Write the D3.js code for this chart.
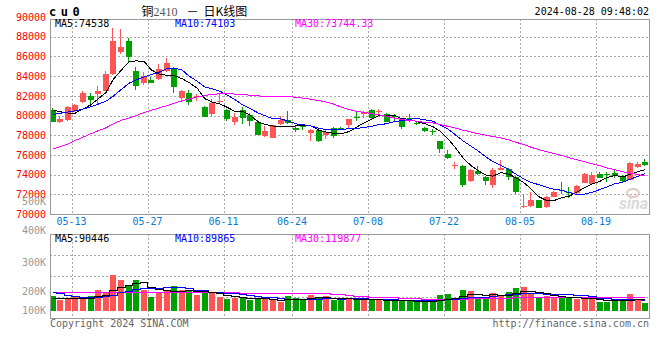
<!DOCTYPE html>
<html>
<head>
<meta charset="utf-8">
<script src="https://cdn.jsdelivr.net/npm/d3@7"></script>
<style>
  body { margin: 0; background: #fff; }
  text { font-family: "DejaVu Sans Mono", monospace; font-size: 10px; }
</style>
</head>
<body>
<div id="chart"></div>
<script>
var width = 660,
    height = 360;

// trading days shown (2024-05-09 .. 2024-08-28)
var dates = ["05-09","05-10","05-13","05-14","05-15","05-16","05-17","05-20","05-21","05-22",
  "05-23","05-24","05-27","05-28","05-29","05-30","05-31","06-03","06-04","06-05",
  "06-06","06-07","06-11","06-12","06-13","06-14","06-17","06-18","06-19","06-20",
  "06-21","06-24","06-25","06-26","06-27","06-28","07-01","07-02","07-03","07-04",
  "07-05","07-08","07-09","07-10","07-11","07-12","07-15","07-16","07-17","07-18",
  "07-19","07-22","07-23","07-24","07-25","07-26","07-29","07-30","07-31","08-01",
  "08-02","08-05","08-06","08-07","08-08","08-09","08-12","08-13","08-14","08-15",
  "08-16","08-19","08-20","08-21","08-22","08-23","08-26","08-27","08-28"];

var opens = [80575,79320,79560,80500,81340,81990,82190,82520,84270,86490,
  87570,84470,83360,83640,83710,84540,84720,81790,82250,81880,
  80910,80170,81380,80600,79320,80600,80070,79390,77880,77710,
  79160,79570,78720,79060,78210,78480,77980,78720,78700,78990,
  79870,80170,80600,80400,80170,79990,79600,79700,79230,78720,
  78420,77370,76130,74900,74850,73360,74370,73770,72930,74550,
  74520,73710,70750,70810,71410,70640,71750,72400,72200,72150,
  73160,73030,74110,74080,74170,73770,73500,74780,75280];
var highs = [80780,79900,81010,81180,82450,82250,83030,84470,88860,88760,
  87880,84880,84370,83870,85220,85790,84880,82590,82590,82200,
  81010,81690,82190,80710,80230,80840,80230,79500,78920,79000,
  79900,80500,78990,79160,78660,78560,78480,78820,78800,79650,
  80500,80500,80710,80700,80270,80170,79670,80170,79330,78800,
  78650,77400,76540,75280,74950,74520,74850,73840,74620,75450,
  74620,73840,72020,72250,71450,71820,72350,73260,72760,72930,
  74170,74270,74270,74270,74440,73940,75280,75280,75560];
var lows = [79320,79250,79490,80320,81240,81010,81180,82450,84140,86230,
  85280,82580,83130,83260,83600,84370,82250,81510,81080,81500,
  79830,79830,81180,79490,79060,79160,78920,77980,77810,77680,
  78990,79160,78310,78480,77400,77300,77600,77710,78500,78580,
  79490,79730,79670,80030,79330,79490,78660,79390,79060,78300,
  77980,76230,75560,74520,72760,73260,73940,72930,72660,74440,
  73430,72080,70570,70710,70570,70570,71690,72020,71590,72020,
  73100,72930,73640,73260,73640,73260,73430,74620,74880];
var closes = [79390,79620,80910,81110,82250,81590,82520,84210,87570,86970,
  85990,82960,84040,83300,84720,85380,82860,82450,81340,81950,
  79900,81240,81440,79670,79830,79830,79420,78050,78380,78990,
  79570,79220,78560,78820,78560,77370,78310,77910,78620,79600,
  79800,80330,79830,80460,79390,79880,78760,79640,79160,78380,
  78350,76540,75690,74950,72930,74440,74040,73360,74440,74720,
  73670,72150,70850,71410,70640,71690,72250,72300,72100,72830,
  74040,73940,73710,74000,73840,73360,75180,75120,74950];

// volume, thousands of lots
var volumes = [116,85,98,111,105,116,163,150,282,242,
  203,242,169,111,150,163,195,163,163,124,
  150,150,111,92,105,105,89,105,98,85,
  71,116,105,85,124,105,116,87,87,100,
  95,87,87,87,87,79,87,87,74,79,
  79,124,132,98,163,156,105,111,142,124,
  150,179,187,137,105,116,105,116,105,98,
  98,105,71,71,89,89,132,89,64];

// moving averages before a full window exists
var ma5Head = [80550,80400,80250,80230];
var ma10Head = [80100,80230,80350,80480,80650,80900,81150,81450,81950];
var ma30Head = [76600,76850,77100,77450,77800,78150,78450,78750,79150,79500,
  79750,79980,80300,80520,80760,81000,81250,81480,81680,81870,
  82020,82150,82200,82200,82180,82120,82060,82000,81930];
var volMa5Head = [105,104,103,104];
var volMa10Head = [152,140,128,118,112,110,110,115,125];
var volMa30Head = [150,150,151,151,151,152,152,152,152,152,
  152,152,152,151,151,151,151,150,150,150,
  149,149,148,148,147,146,145,144,143];

var priceTicks = [70000,72000,74000,76000,78000,80000,82000,84000,86000,88000,90000];
var volTicks = [100,200,300,400,500];
var dateTicks = ["05-13","05-27","06-11","06-24","07-08","07-22","08-05","08-19"];

var upColor = "#ff5555",
    downColor = "#00a000",
    gridColor = "#aaa";

var mainBox = {left: 50, right: 649.3, top: 19, bottom: 214},
    volBox = {left: 50, right: 649.3, top: 234.3, bottom: 318.3};

function movingAvg(values, n, head) {
  return values.map(function(v, i) {
    if (i < n - 1) return head[i];
    return d3.mean(values.slice(i - n + 1, i + 1));
  });
}

var candles = dates.map(function(d, i) {
  return {date: d, open: opens[i], high: highs[i], low: lows[i], close: closes[i], volume: volumes[i]};
});

var svg = d3.select("#chart").append("svg")
  .attr("width", width)
  .attr("height", height)
  .style("background", "#fff");

// scales
var xScale = d3.scaleBand()
  .domain(dates)
  .range([48.7, 649.3]);
var step = xScale.step();
function cx(d) { return Math.round(xScale(d) + step / 2); }

var yScale = d3.scaleLinear()
  .domain([70000, 90000])
  .range([mainBox.bottom, 17]);

var volScale = d3.scaleLinear()
  .domain([0, 600])
  .range([311, 311 - 600 / 7.9]);

// the volume labels sit at uneven heights in the source picture
var volLabelScale = d3.scaleLinear()
  .domain([100, 200, 300, 400, 500])
  .range([310, 291, 262, 230, 201.5]);

var defs = svg.append("defs");
defs.append("clipPath").attr("id", "clipMain").append("rect")
  .attr("x", mainBox.left).attr("y", mainBox.top)
  .attr("width", mainBox.right - mainBox.left).attr("height", mainBox.bottom - mainBox.top);
defs.append("clipPath").attr("id", "clipVol").append("rect")
  .attr("x", volBox.left).attr("y", volBox.top)
  .attr("width", volBox.right - volBox.left).attr("height", volBox.bottom - volBox.top);

//grid lines
var grid = svg.append("g")
  .attr("stroke", gridColor)
  .attr("stroke-dasharray", "2,2")
  .attr("shape-rendering", "crispEdges");

grid.selectAll(".hgrid")
  .data(priceTicks.filter(function(p) { return yScale(p) > mainBox.top + 2 && yScale(p) < mainBox.bottom - 2; }))
  .enter().append("line")
    .attr("x1", mainBox.left).attr("x2", mainBox.right)
    .attr("y1", function(d) { return Math.round(yScale(d)) + 0.5; })
    .attr("y2", function(d) { return Math.round(yScale(d)) + 0.5; });

grid.selectAll(".vhgrid")
  .data(d3.range(1, 4))
  .enter().append("line")
    .attr("x1", volBox.left).attr("x2", volBox.right)
    .attr("y1", function(k) { return Math.round(volBox.top + k * (volBox.bottom - volBox.top) / 4) + 0.5; })
    .attr("y2", function(k) { return Math.round(volBox.top + k * (volBox.bottom - volBox.top) / 4) + 0.5; });

[mainBox, volBox].forEach(function(box) {
  grid.append("g").selectAll("line")
    .data(dateTicks)
    .enter().append("line")
      .attr("x1", function(d) { return Math.round(xScale(d) + step) + 0.5; })
      .attr("x2", function(d) { return Math.round(xScale(d) + step) + 0.5; })
      .attr("y1", box.top).attr("y2", box.bottom);
});

// watermark
var mark = svg.append("g").attr("opacity", 0.9);
mark.append("text")
  .attr("x", 648).attr("y", 209)
  .attr("text-anchor", "end")
  .style("font-family", "Roboto, sans-serif")
  .style("font-size", "16px")
  .style("font-weight", "bold")
  .style("font-style", "italic")
  .attr("fill", "#d6d6d6")
  .text("sina");
mark.append("ellipse")
  .attr("cx", 633).attr("cy", 193).attr("rx", 6).attr("ry", 4)
  .attr("fill", "none").attr("stroke", "#e3c4c4").attr("stroke-width", 2);

//candles
var candleG = svg.append("g")
  .attr("clip-path", "url(#clipMain)")
  .attr("shape-rendering", "crispEdges");

var candle = candleG.selectAll(".candle")
  .data(candles)
  .enter().append("g")
    .attr("class", "candle")
    .attr("fill", function(d) { return d.close >= d.open ? upColor : downColor; })
    .attr("stroke", function(d) { return d.close >= d.open ? upColor : downColor; });

candle.append("line")
  .attr("x1", function(d) { return cx(d.date) - 0.5; })
  .attr("x2", function(d) { return cx(d.date) - 0.5; })
  .attr("y1", function(d) { return Math.round(yScale(d.high)); })
  .attr("y2", function(d) { return Math.round(yScale(d.low)); });

candle.append("rect")
  .attr("stroke", "none")
  .attr("x", function(d) { return cx(d.date) - 3; })
  .attr("width", 6)
  .attr("y", function(d) { return Math.round(yScale(Math.max(d.open, d.close))); })
  .attr("height", function(d) {
    return Math.max(1, Math.round(yScale(Math.min(d.open, d.close)) - yScale(Math.max(d.open, d.close))));
  });

// price moving averages
var maSeries = [
  {values: movingAvg(closes, 5, ma5Head), color: "#000"},
  {values: movingAvg(closes, 10, ma10Head), color: "#0000ff"},
  {values: movingAvg(closes, 30, ma30Head), color: "#ff00ff"}
];
var maLine = d3.line()
  .x(function(v, i) { return cx(dates[i]); })
  .y(function(v) { return yScale(v); });

candleG.selectAll(".ma")
  .data(maSeries)
  .enter().append("path")
    .attr("fill", "none")
    .attr("stroke", function(d) { return d.color; })
    .attr("stroke-width", 1)
    .attr("d", function(d) { return maLine(d.values); });

//volume bars
var volG = svg.append("g")
  .attr("clip-path", "url(#clipVol)")
  .attr("shape-rendering", "crispEdges");

volG.selectAll(".vol")
  .data(candles)
  .enter().append("rect")
    .attr("fill", function(d) { return d.close >= d.open ? upColor : downColor; })
    .attr("x", function(d) { return cx(d.date) - 3; })
    .attr("width", 6)
    .attr("y", function(d) { return Math.round(volScale(d.volume)); })
    .attr("height", function(d) { return Math.round(volScale(0)) - Math.round(volScale(d.volume)); });

var volMaSeries = [
  {values: movingAvg(volumes, 30, volMa30Head), color: "#ff00ff"},
  {values: movingAvg(volumes, 10, volMa10Head), color: "#0000ff"},
  {values: movingAvg(volumes, 5, volMa5Head), color: "#000"}
];
var volLine = d3.line()
  .curve(d3.curveStep)
  .x(function(v, i) { return cx(dates[i]); })
  .y(function(v) { return Math.round(volScale(v)) + 0.5; });

volG.selectAll(".volma")
  .data(volMaSeries)
  .enter().append("path")
    .attr("fill", "none")
    .attr("stroke", function(d) { return d.color; })
    .attr("stroke-width", 1)
    .attr("d", function(d) { return volLine(d.values); });

//frames
[mainBox, volBox].forEach(function(box) {
  svg.append("rect")
    .attr("x", box.left + 0.5).attr("y", Math.round(box.top) + 0.5)
    .attr("width", box.right - box.left - 0.5)
    .attr("height", Math.round(box.bottom) - Math.round(box.top))
    .attr("fill", "none")
    .attr("stroke", "#999")
    .attr("stroke-width", 1.2)
    .attr("shape-rendering", "crispEdges");
});

//axes
var yAxis = svg.append("g")
  .attr("transform", "translate(" + mainBox.left + ",0)")
  .call(d3.axisLeft(yScale).tickValues(priceTicks).tickSize(0).tickPadding(4).tickFormat(d3.format("d")));
yAxis.select(".domain").remove();
yAxis.selectAll("text")
  .attr("fill", "#f00")
  .style("font-family", "'DejaVu Sans Mono', monospace")
  .style("font-size", "10px");

var volAxis = svg.append("g")
  .attr("transform", "translate(" + mainBox.left + ",0)")
  .call(d3.axisLeft(volLabelScale).tickValues(volTicks).tickSize(0).tickPadding(4)
    .tickFormat(function(d) { return d + "K"; }));
volAxis.select(".domain").remove();
volAxis.selectAll("text")
  .attr("fill", "#999")
  .style("font-family", "'DejaVu Sans Mono', monospace")
  .style("font-size", "10px");

svg.append("g").selectAll("text")
  .data(dateTicks)
  .enter().append("text")
    .attr("x", function(d) { return xScale(d) + step; })
    .attr("y", 225)
    .attr("text-anchor", "middle")
    .attr("fill", "#0a78d2")
    .text(function(d) { return d; });

//titles and legends
svg.append("text")
  .attr("x", 49).attr("y", 16)
  .style("font-size", "12px")
  .style("font-weight", "bold")
  .style("letter-spacing", "4.5px")
  .text("cu0");

var title = svg.append("text")
  .attr("x", 141.5).attr("y", 16)
  .style("font-family", "'Noto Sans CJK SC', sans-serif")
  .style("font-size", "12px");
title.append("tspan").text("铜");
title.append("tspan")
  .style("font-family", "'Liberation Serif', serif")
  .attr("fill", "#555")
  .text("2410");
title.append("tspan").attr("dx", 9).text("－");
title.append("tspan").attr("dx", 5).text("日K线图");

svg.append("text")
  .attr("x", 649).attr("y", 15)
  .attr("text-anchor", "end")
  .text("2024-08-28 09:48:02");

var legends = [
  {y: 27, items: [["MA5:74538", "#000"], ["MA10:74103", "#0000ff"], ["MA30:73744.33", "#ff00ff"]]},
  {y: 242, items: [["MA5:90446", "#000"], ["MA10:89865", "#0000ff"], ["MA30:119877", "#ff00ff"]]}
];
legends.forEach(function(row) {
  svg.append("g").selectAll("text")
    .data(row.items)
    .enter().append("text")
      .attr("x", function(d, i) { return 55 + i * 120; })
      .attr("y", row.y)
      .attr("fill", function(d) { return d[1]; })
      .text(function(d) { return d[0]; });
});

svg.append("text")
  .attr("x", 50).attr("y", 327)
  .attr("fill", "#666")
  .text("Copyright 2024 SINA.COM");
svg.append("text")
  .attr("x", 649).attr("y", 327)
  .attr("text-anchor", "end")
  .attr("fill", "#666")
  .text("http://finance.sina.com.cn");
</script>
</body>
</html>
